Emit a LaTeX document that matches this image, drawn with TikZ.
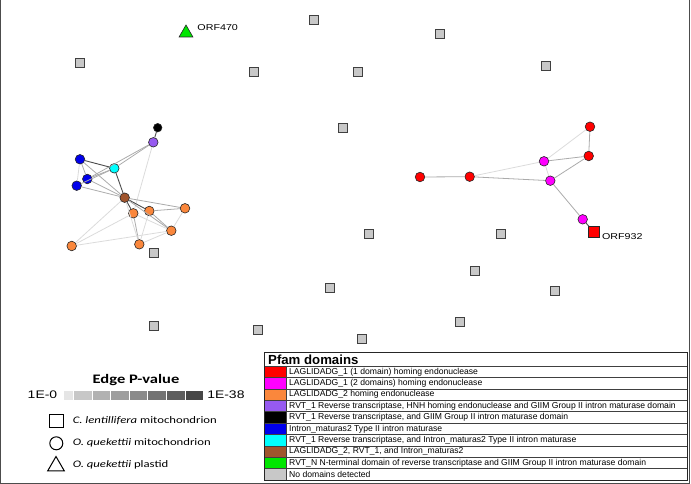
\documentclass[tikz,border=0pt]{standalone}
\usepackage{fontspec}
\setmainfont{Liberation Sans}
\newfontfamily\calibri{Carlito}
\usetikzlibrary{shapes.geometric, positioning}

\definecolor{dred}{RGB}{255,0,0}
\definecolor{dmag}{RGB}{255,0,255}
\definecolor{dorange}{RGB}{250,135,60}
\definecolor{dpurple}{RGB}{150,90,240}
\definecolor{dblue}{RGB}{0,0,235}
\definecolor{dcyan}{RGB}{0,255,255}
\definecolor{dbrown}{RGB}{160,85,45}
\definecolor{dgreen}{RGB}{0,230,0}
\definecolor{dgray}{RGB}{200,200,200}

\begin{document}
\begin{tikzpicture}[x=1pt, y=-1pt,
   orf/.style={circle, draw=black!85, line width=0.6pt, minimum size=9.6pt, inner sep=0pt},
   nohit/.style={rectangle, draw=black!75, line width=0.6pt, fill=dgray, minimum size=8.5pt, inner sep=0pt},
   strong/.style={draw=black!70, line width=0.9pt},
   medium/.style={draw=black!33, line width=0.8pt},
   weak/.style={draw=black!14, line width=0.8pt},
   lbl/.style={font=\fontsize{8.5}{10}\selectfont, xscale=1.26, inner sep=1pt},
   keytext/.style={font=\calibri\fontsize{10}{11}\selectfont, xscale=1.27, anchor=west, inner sep=0pt},
   rowtext/.style={font=\fontsize{8.6}{9}\selectfont, anchor=west, inner sep=0pt}]
   \useasboundingbox (0,0) rectangle (691,484);
   \draw[black!70, line width=0.8pt] (0.6,0) -- (0.6,483.2) -- (689.6,483.2) -- (689.6,0);

   % sequences without domains
   \foreach \x/\y [count=\n] in {314/20, 440/34, 80/63, 254/72, 358/72, 546/66, 343/128,
      369/234, 501/234, 154/253, 475/271, 330/288, 555/291, 460/322, 154/326, 258/330, 362/339}
      \node[nohit] (nd\n) at (\x,\y) {};

   % plastid ORF
   \node[regular polygon, regular polygon sides=3, draw=black!85, line width=0.6pt, fill=dgreen,
      minimum size=16pt, inner sep=0pt] (t470) at (186,33) {};
   \node[lbl, right=5pt of t470, yshift=5.5pt] (l470) {ORF470};

   % left cluster
   \node[orf, fill=black, minimum size=8.5pt] (blk) at (157.7,127.7) {};
   \node[orf, fill=dpurple] (prp) at (153.3,142.3) {};
   \node[orf, fill=dblue] (bl1) at (80,159.3) {};
   \node[orf, fill=dcyan] (cyn) at (114.3,168.3) {};
   \node[orf, fill=dblue] (bl2) at (87.3,179) {};
   \node[orf, fill=dblue] (bl3) at (76.7,185.7) {};
   \node[orf, fill=dbrown] (brn) at (124.7,197.7) {};
   \node[orf, fill=dorange] (or1) at (133.3,213.3) {};
   \node[orf, fill=dorange] (or2) at (149.3,211) {};
   \node[orf, fill=dorange] (or3) at (185,208.3) {};
   \node[orf, fill=dorange] (or4) at (171.3,230.7) {};
   \node[orf, fill=dorange] (or5) at (139.3,244.3) {};
   \node[orf, fill=dorange] (or6) at (71.7,246) {};

   \path
    (blk) edge[strong] (prp)
    (prp) edge[medium] (cyn)
          edge[medium] (bl2)
          edge[weak] (or1)
    (bl1) edge[strong] (cyn)
          edge[medium] (bl2)
          edge[weak] (bl3)
          edge[medium] (brn)
    (cyn) edge[medium] (bl2)
          edge[medium] (bl3)
          edge[strong] (brn)
    (bl2) edge[medium] (brn)
    (bl3) edge[medium] (brn)
    (brn) edge[strong] (or1)
          edge[strong] (or2)
          edge[medium] (or3)
          edge[medium] (or4)
          edge[weak] (or6)
          edge[weak] (or5)
    (or1) edge[medium] (or5)
          edge[weak] (or4)
          edge[weak] (or6)
    (or2) edge[medium] (or3)
          edge[medium] (or4)
          edge[weak] (or5)
    (or3) edge[weak] (or4)
    (or5) edge[weak] (or4)
    (or6) edge[weak] (or4);

   % right cluster
   \node[orf, fill=dred] (r1) at (420,177) {};
   \node[orf, fill=dred] (r2) at (469.7,176.7) {};
   \node[orf, fill=dmag] (m1) at (544,161.3) {};
   \node[orf, fill=dmag] (m2) at (550.3,180.7) {};
   \node[orf, fill=dred] (r3) at (590,126.7) {};
   \node[orf, fill=dred] (r4) at (588.7,156) {};
   \node[orf, fill=dmag] (m3) at (582.7,219.3) {};
   \node[rectangle, draw=black!85, line width=0.6pt, fill=dred, minimum size=10.5pt,
      inner sep=0pt] (o932) at (594,232) {};
   \node[lbl, right=1pt of o932, yshift=-5pt] (l932) {ORF932};

   \path
    (r1) edge[medium] (r2)
    (r2) edge[weak] (m1)
         edge[medium] (m2)
    (m1) edge[weak] (r3)
         edge[medium] (r4)
         edge[weak] (m2)
    (m2) edge[medium] (r4)
         edge[medium] (m3)
    (r3) edge[medium] (r4)
    (m3) edge[strong] (o932);

   % edge p-value key
   \node[font=\calibri\bfseries\fontsize{13}{14}\selectfont, xscale=1.27] (ptitle) at (136,380) {Edge P-value};
   \node[font=\fontsize{11}{12}\selectfont, xscale=1.27, anchor=east, inner sep=0pt] (p0) at (57.5,395) {1E-0};
   \fill[black!10] (64,391) rectangle (73,399.5);
   \foreach \g [count=\k] in {22,30,38,46,55,63,72} {
      \pgfmathsetmacro\xa{74+18.6*(\k-1)}
      \fill[black!\g] (\xa,391) rectangle (\xa+17.6,399.5);
   }
   \node[font=\fontsize{11}{12}\selectfont, xscale=1.27, anchor=west, inner sep=0pt] (p38) at (207,395) {1E-38};

   % shape key
   \node[rectangle, draw=black, line width=1pt, minimum width=14pt, minimum height=13pt] (ksq) at (56,420.7) {};
   \node[circle, draw=black, line width=1pt, minimum size=13pt, inner sep=0pt] (kci) at (56.3,443.3) {};
   \node[regular polygon, regular polygon sides=3, draw=black, line width=1pt, minimum size=19pt,
      inner sep=0pt] (ktr) at (56,466) {};
   \node[keytext] (tsq) at (72.5,420.7) {\textit{C. lentillifera} mitochondrion};
   \node[keytext] (tci) at (72.5,443.3) {\textit{O. quekettii} mitochondrion};
   \node[keytext] (ttr) at (72.5,465) {\textit{O. quekettii} plastid};

   % Pfam domain table
   \node[font=\bfseries\fontsize{13.2}{14}\selectfont, anchor=west, inner sep=0pt] (pfam) at (268,359.5) {Pfam domains};
   \foreach \c/\t [count=\i] in {
      dred/{LAGLIDADG\_1 (1 domain) homing endonuclease},
      dmag/{LAGLIDADG\_1 (2 domains) homing endonuclease},
      dorange/{LAGLIDADG\_2 homing endonuclease},
      dpurple/{RVT\_1 Reverse transcriptase, HNH homing endonuclease and GIIM Group II intron maturase domain},
      black/{RVT\_1 Reverse transcriptase, and GIIM Group II intron maturase domain},
      dblue/{Intron\_maturas2 Type II intron maturase},
      dcyan/{RVT\_1 Reverse transcriptase, and Intron\_maturas2 Type II intron maturase},
      dbrown/{LAGLIDADG\_2, RVT\_1, and Intron\_maturas2},
      dgreen/{RVT\_N N-terminal domain of reverse transcriptase and GIIM Group II intron maturase domain},
      dgray/{No domains detected}} {
      \pgfmathsetmacro\ya{366+11.4*(\i-1)}
      \pgfmathsetmacro\yb{366+11.4*\i}
      \fill[\c] (265,\ya) rectangle (286,\yb);
      \node[rowtext] (dom\i) at (289,\ya+5.9) {\t};
      \draw[black!75, line width=0.6pt] (264,\ya) -- (687,\ya);
   }
   \draw[black!75, line width=0.6pt] (286,366) -- (286,480);
   \draw[black!85, line width=1pt] (264,352) rectangle (687,480);
\end{tikzpicture}
\end{document}
